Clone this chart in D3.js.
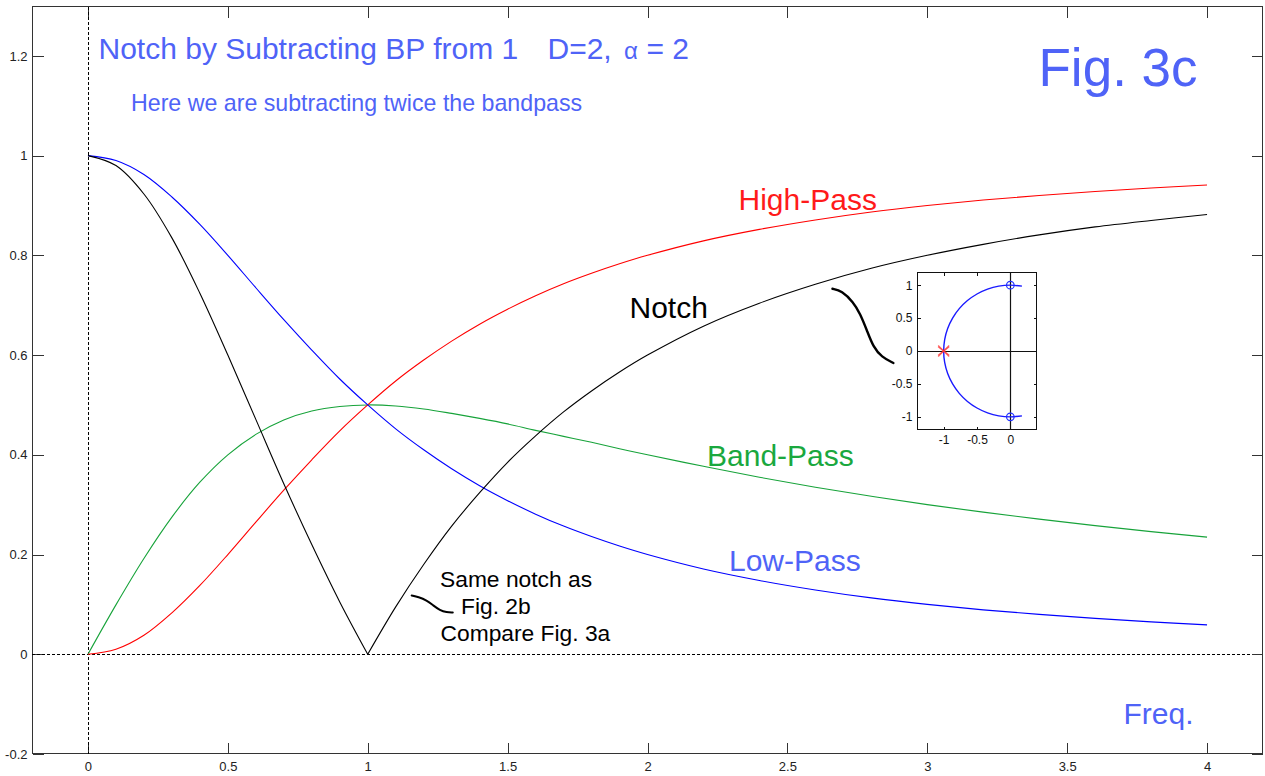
<!DOCTYPE html>
<html>
<head>
<meta charset="utf-8">
<script src="https://cdn.jsdelivr.net/npm/d3@7"></script>
<style>
  html, body { margin: 0; padding: 0; background: #fff; }
  svg { display: block; font-family: Arial, "Liberation Sans", sans-serif; }
</style>
</head>
<body>
<svg id="chart" width="1265" height="776"></svg>
<script>
// Frequency samples (normalized) and the four filter magnitude responses
const freq     = [0, 0.1, 0.2, 0.3, 0.4, 0.5, 0.6, 0.7, 0.8, 0.9, 1.0,
                  1.1, 1.2, 1.3, 1.4, 1.5, 1.6, 1.7, 1.8, 1.9, 2.0,
                  2.2, 2.4, 2.6, 2.8, 3.0, 3.2, 3.4, 3.6, 3.8, 4.0];
const lowPass  = [1.000, 0.990, 0.962, 0.917, 0.862, 0.800, 0.735, 0.671, 0.610, 0.552, 0.500,
                  0.452, 0.410, 0.372, 0.338, 0.308, 0.281, 0.257, 0.236, 0.217, 0.200,
                  0.171, 0.148, 0.129, 0.113, 0.100, 0.089, 0.080, 0.072, 0.065, 0.059];
const highPass = [0.000, 0.010, 0.038, 0.083, 0.138, 0.200, 0.265, 0.329, 0.390, 0.448, 0.500,
                  0.548, 0.590, 0.628, 0.662, 0.692, 0.719, 0.743, 0.764, 0.783, 0.800,
                  0.829, 0.852, 0.871, 0.887, 0.900, 0.911, 0.920, 0.928, 0.935, 0.941];
const bandPass = [0.000, 0.099, 0.192, 0.275, 0.345, 0.400, 0.441, 0.470, 0.488, 0.497, 0.500,
                  0.498, 0.492, 0.483, 0.473, 0.462, 0.449, 0.437, 0.425, 0.412, 0.400,
                  0.377, 0.355, 0.335, 0.317, 0.300, 0.285, 0.271, 0.258, 0.246, 0.235];
const notch    = [1.000, 0.980, 0.923, 0.835, 0.724, 0.600, 0.471, 0.342, 0.220, 0.105, 0.000,
                  0.095, 0.180, 0.257, 0.324, 0.385, 0.438, 0.486, 0.528, 0.566, 0.600,
                  0.658, 0.704, 0.742, 0.774, 0.800, 0.822, 0.841, 0.857, 0.870, 0.882];

// Axis ticks
const xTicks = [0, 0.5, 1, 1.5, 2, 2.5, 3, 3.5, 4];
const yTicks = [-0.2, 0, 0.2, 0.4, 0.6, 0.8, 1, 1.2];

// Pole-zero inset: root locus arc (re, im), zeros and the double pole
const locusRe = [0.174, 0, -0.174, -0.342, -0.500, -0.643, -0.766, -0.866, -0.940, -0.985, -1.000,
                 -0.985, -0.940, -0.866, -0.766, -0.643, -0.500, -0.342, -0.174, 0, 0.174];
const locusIm = [0.985, 1, 0.985, 0.940, 0.866, 0.766, 0.643, 0.500, 0.342, 0.174, 0,
                 -0.174, -0.342, -0.500, -0.643, -0.766, -0.866, -0.940, -0.985, -1, -0.985];
const zerosRe = [0, 0];
const zerosIm = [1, -1];
const polesRe = [-1, -1];
const polesIm = [0, 0];
const insetXTicks = [-1, -0.5, 0];
const insetYTicks = [-1, -0.5, 0, 0.5, 1];

const BLUE_TEXT = "#4f63f7";
const svg = d3.select("#chart");

const box = { left: 32, top: 6, right: 1263, bottom: 754 };
const x = d3.scaleLinear().domain([-0.2, 4.2]).range([box.left, box.right]);
const y = d3.scaleLinear().domain([-0.2, 1.3]).range([box.bottom, box.top]);

// Frame
svg.append("rect")
  .attr("x", box.left + 0.5).attr("y", box.top + 0.5)
  .attr("width", box.right - box.left - 1).attr("height", box.bottom - box.top - 1)
  .attr("fill", "none").attr("stroke", "#333").attr("stroke-width", 1)
  .attr("shape-rendering", "crispEdges");

function styleAxis(g, showLabels) {
  g.select(".domain").remove();
  g.selectAll(".tick line").attr("stroke", "#333").attr("shape-rendering", "crispEdges");
  g.selectAll(".tick text").attr("fill", "#222").style("font-size", "13px")
    .style("font-family", "Arial, 'Liberation Sans', sans-serif");
  if (!showLabels) g.selectAll(".tick text").remove();
}
const fmt = d => String(d);

svg.append("g").attr("transform", `translate(0,${box.bottom - 0.5})`)
  .call(d3.axisBottom(x).tickValues(xTicks).tickFormat(fmt).tickSizeInner(-11).tickSizeOuter(0).tickPadding(8))
  .call(g => styleAxis(g, true));
svg.append("g").attr("transform", `translate(0,${box.top + 0.5})`)
  .call(d3.axisTop(x).tickValues(xTicks).tickSizeInner(-11).tickSizeOuter(0))
  .call(g => styleAxis(g, false));
svg.append("g").attr("transform", `translate(${box.left + 0.5},0)`)
  .call(d3.axisLeft(y).tickValues(yTicks).tickFormat(fmt).tickSizeInner(-11).tickSizeOuter(0).tickPadding(5))
  .call(g => styleAxis(g, true));
svg.append("g").attr("transform", `translate(${box.right - 0.5},0)`)
  .call(d3.axisRight(y).tickValues(yTicks).tickSizeInner(-11).tickSizeOuter(0))
  .call(g => styleAxis(g, false));

// Dotted zero lines
svg.append("line")
  .attr("x1", box.left).attr("x2", box.right - 12)
  .attr("y1", Math.round(y(0)) + 0.5).attr("y2", Math.round(y(0)) + 0.5)
  .attr("stroke", "#000").attr("stroke-dasharray", "3,2");
svg.append("line")
  .attr("x1", Math.round(x(0)) + 0.5).attr("x2", Math.round(x(0)) + 0.5)
  .attr("y1", box.top + 1).attr("y2", box.bottom)
  .attr("stroke", "#000").attr("stroke-dasharray", "3,2");

// Response curves
const line = d3.line().x(d => x(d[0])).y(d => y(d[1])).curve(d3.curveCatmullRom);
const pairs = vals => freq.map((f, i) => [f, vals[i]]);

function drawCurve(points, color) {
  svg.append("path").datum(points)
    .attr("d", line).attr("fill", "none").attr("stroke", color).attr("stroke-width", 1.1);
}
drawCurve(pairs(bandPass), "#17a33a");
drawCurve(pairs(highPass), "#ff0000");
drawCurve(pairs(lowPass), "#0000ff");
// The notch has a sharp null: draw both sides of the minimum separately
const notchPts = pairs(notch);
const iMin = d3.minIndex(notch);
drawCurve(notchPts.slice(0, iMin + 1), "#000000");
drawCurve(notchPts.slice(iMin), "#000000");

// Text labels
function label(txt, px, py, size, color) {
  return svg.append("text").attr("x", px).attr("y", py)
    .style("font-size", size + "px").attr("fill", color).text(txt);
}
label("Notch by Subtracting BP from 1", 98.5, 59, 30, BLUE_TEXT);
label("D=2,", 547.5, 59, 30, BLUE_TEXT);
label("\u03B1", 624, 59, 24, BLUE_TEXT);
label("= 2", 646.5, 59, 30, BLUE_TEXT);
label("Here we are subtracting twice the bandpass", 131, 111, 23.2, BLUE_TEXT);
label("Fig. 3c", 1038.5, 86, 53, BLUE_TEXT);
label("Freq.", 1123.5, 724, 30, BLUE_TEXT);

label("High-Pass", 738.5, 210, 30, "#ff1a1a");
label("Notch", 629.5, 318, 30, "#000");
label("Band-Pass", 707, 466, 30, "#1aa83e");
label("Low-Pass", 729, 571, 30, BLUE_TEXT);

label("Same notch as", 440, 587, 22.8, "#000");
label("Fig. 2b", 461, 614, 22.8, "#000");
label("Compare Fig. 3a", 440.5, 641, 22.8, "#000");

// Hand-drawn pointer strokes (in data coordinates)
const squiggleBig = [[2.661, 0.733], [2.694, 0.729], [2.736, 0.706], [2.760, 0.683],
                     [2.784, 0.650], [2.807, 0.616], [2.837, 0.596], [2.879, 0.584]];
const squiggleSmall = [[1.157, 0.118], [1.181, 0.115], [1.211, 0.108], [1.234, 0.098],
                       [1.258, 0.088], [1.282, 0.084], [1.304, 0.084]];
const freeLine = d3.line().x(d => x(d[0])).y(d => y(d[1])).curve(d3.curveBasis);
svg.append("path").datum(squiggleBig).attr("d", freeLine)
  .attr("fill", "none").attr("stroke", "#000").attr("stroke-width", 2.4).attr("stroke-linecap", "round");
svg.append("path").datum(squiggleSmall).attr("d", freeLine)
  .attr("fill", "none").attr("stroke", "#000").attr("stroke-width", 2).attr("stroke-linecap", "round");

// Pole-zero inset
const ib = { left: 917, top: 272, right: 1037, bottom: 430 };
const ix = d3.scaleLinear().domain([-1.4, 0.4]).range([ib.left, ib.right]);
const iy = d3.scaleLinear().domain([-1.2, 1.2]).range([ib.bottom, ib.top]);
const inset = svg.append("g");
inset.append("rect")
  .attr("x", ib.left + 0.5).attr("y", ib.top + 0.5)
  .attr("width", ib.right - ib.left - 1).attr("height", ib.bottom - ib.top - 1)
  .attr("fill", "#fff").attr("stroke", "#111").attr("shape-rendering", "crispEdges");

function styleInset(g, showLabels) {
  g.select(".domain").remove();
  g.selectAll(".tick line").attr("stroke", "#111").attr("shape-rendering", "crispEdges");
  g.selectAll(".tick text").attr("fill", "#111").style("font-size", "12px")
    .style("font-family", "Arial, 'Liberation Sans', sans-serif");
  if (!showLabels) g.selectAll(".tick text").remove();
}
inset.append("g").attr("transform", `translate(0,${ib.bottom - 0.5})`)
  .call(d3.axisBottom(ix).tickValues(insetXTicks).tickFormat(fmt).tickSizeInner(-3).tickSizeOuter(0).tickPadding(6))
  .call(g => styleInset(g, true));
inset.append("g").attr("transform", `translate(0,${ib.top + 0.5})`)
  .call(d3.axisTop(ix).tickValues(insetXTicks).tickSizeInner(-3).tickSizeOuter(0))
  .call(g => styleInset(g, false));
inset.append("g").attr("transform", `translate(${ib.left + 0.5},0)`)
  .call(d3.axisLeft(iy).tickValues(insetYTicks).tickFormat(fmt).tickSizeInner(-3).tickSizeOuter(0).tickPadding(5))
  .call(g => styleInset(g, true));
inset.append("g").attr("transform", `translate(${ib.right - 0.5},0)`)
  .call(d3.axisRight(iy).tickValues(insetYTicks).tickSizeInner(-3).tickSizeOuter(0))
  .call(g => styleInset(g, false));

// Real and imaginary axes
inset.append("line").attr("x1", ib.left).attr("x2", ib.right)
  .attr("y1", Math.round(iy(0)) + 0.5).attr("y2", Math.round(iy(0)) + 0.5)
  .attr("stroke", "#111").attr("stroke-width", 1.2);
inset.append("line").attr("x1", Math.round(ix(0)) + 0.5).attr("x2", Math.round(ix(0)) + 0.5)
  .attr("y1", ib.top).attr("y2", ib.bottom)
  .attr("stroke", "#111").attr("stroke-width", 1.2);

const locus = locusRe.map((r, i) => [r, locusIm[i]]);
inset.append("path").datum(locus)
  .attr("d", d3.line().x(d => ix(d[0])).y(d => iy(d[1])).curve(d3.curveCatmullRom))
  .attr("fill", "none").attr("stroke", "#1a1aff").attr("stroke-width", 1.4);

zerosRe.forEach((r, i) => {
  inset.append("circle").attr("cx", ix(r)).attr("cy", iy(zerosIm[i])).attr("r", 3.8)
    .attr("fill", "none").attr("stroke", "#2030ff").attr("stroke-width", 1.2);
});
polesRe.forEach((r, i) => {
  const cx = ix(r), cy = iy(polesIm[i]), s = 5.5, off = i * 1.2;
  inset.append("path")
    .attr("d", `M${cx - s},${cy - s + off}L${cx + s},${cy + s - off}M${cx - s},${cy + s - off}L${cx + s},${cy - s + off}`)
    .attr("stroke", "#ff3b3b").attr("stroke-opacity", 0.75).attr("stroke-width", 1.4).attr("fill", "none");
});
</script>
</body>
</html>
